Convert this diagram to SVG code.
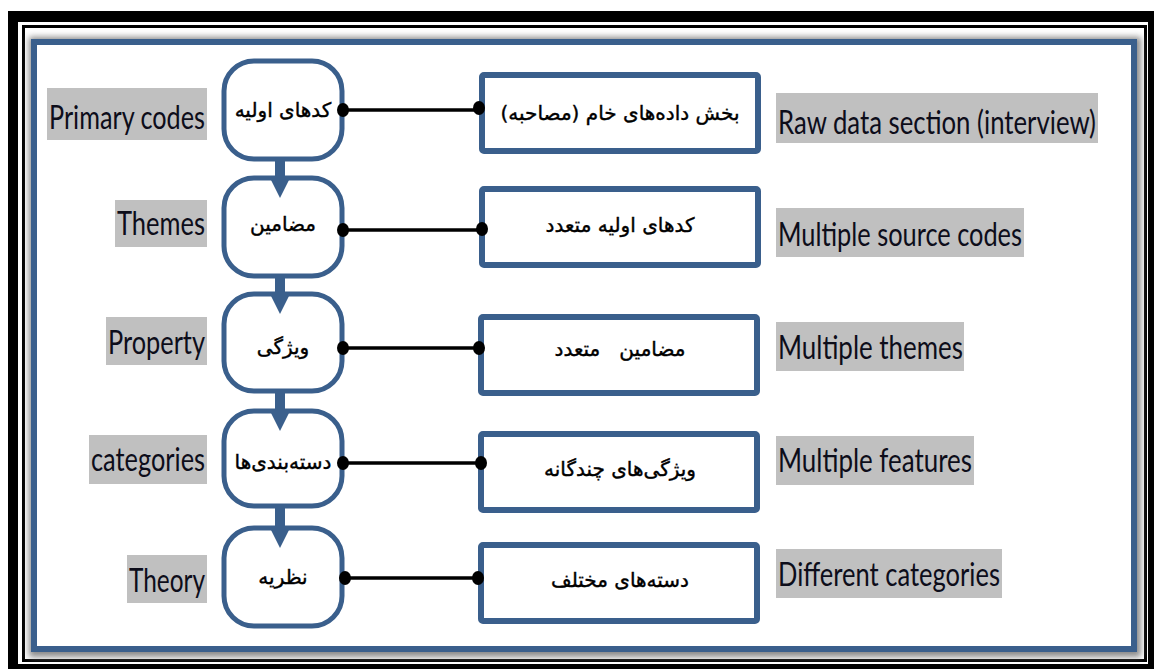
<svg xmlns="http://www.w3.org/2000/svg" width="1154" height="670" viewBox="0 0 1154 670">
<style>
.node{fill:#fff;stroke:#3a5f8c;stroke-width:5}
.box{fill:#fff;stroke:#3a5f8c;stroke-width:6}
.fa{font-family:"DejaVu Sans","Noto Sans",sans-serif;font-size:20px;fill:#000;text-anchor:middle;direction:rtl;stroke:#000;stroke-width:0.4}
.en{font-family:Lato,"Liberation Sans",sans-serif;font-size:32px;fill:#0d0d1a}
.hl{fill:#c0c0c0}
.stem{fill:#3a5f8c}
.conn{stroke:#000;stroke-width:3.5}
.dot{fill:#000}
</style>
<defs>
<filter id="sh" x="-5%" y="-5%" width="110%" height="110%"><feGaussianBlur stdDeviation="3"/></filter>
</defs>
<rect x="0" y="0" width="1154" height="670" fill="#fff"/>
<g id="frame">
<rect x="8" y="11" width="1146" height="658" fill="#000"/>
<rect x="18" y="22" width="1130" height="642" fill="#fff"/>
<rect x="23.5" y="26.5" width="1122" height="634" fill="none" stroke="#000" stroke-width="3"/>
<rect x="29" y="37" width="1112" height="620" fill="#8a8a8a" filter="url(#sh)"/>
<rect x="34" y="42" width="1100" height="607" fill="#fff" stroke="#3a5f8c" stroke-width="6"/>
</g>
<g id="labels-left">
<rect class="hl" x="47" y="88" width="160" height="52"/>
<text class="en" x="205" y="129" text-anchor="end" textLength="156" lengthAdjust="spacingAndGlyphs">Primary codes</text>
<rect class="hl" x="115" y="200" width="92" height="47"/>
<text class="en" x="205" y="235" text-anchor="end" textLength="88" lengthAdjust="spacingAndGlyphs">Themes</text>
<rect class="hl" x="106" y="317" width="101" height="48"/>
<text class="en" x="205" y="354" text-anchor="end" textLength="97" lengthAdjust="spacingAndGlyphs">Property</text>
<rect class="hl" x="89" y="435" width="118" height="49"/>
<text class="en" x="205" y="471" text-anchor="end" textLength="114" lengthAdjust="spacingAndGlyphs">categories</text>
<rect class="hl" x="127" y="555" width="80" height="48"/>
<text class="en" x="205" y="592" text-anchor="end" textLength="76" lengthAdjust="spacingAndGlyphs">Theory</text>
</g>
<g id="labels-right">
<rect class="hl" x="776" y="93" width="322" height="50"/>
<text class="en" x="778" y="134" textLength="318" lengthAdjust="spacingAndGlyphs">Raw data section (interview)</text>
<rect class="hl" x="776" y="208" width="248" height="49"/>
<text class="en" x="778" y="246" textLength="244" lengthAdjust="spacingAndGlyphs">Multiple source codes</text>
<rect class="hl" x="776" y="322" width="188" height="49"/>
<text class="en" x="778" y="359" textLength="185" lengthAdjust="spacingAndGlyphs">Multiple themes</text>
<rect class="hl" x="776" y="436" width="198" height="49"/>
<text class="en" x="778" y="472" textLength="194" lengthAdjust="spacingAndGlyphs">Multiple features</text>
<rect class="hl" x="776" y="549" width="226" height="49"/>
<text class="en" x="778" y="586" textLength="222" lengthAdjust="spacingAndGlyphs">Different categories</text>
</g>
<g id="node1"><rect class="node" x="224" y="61" width="118" height="98" rx="30"/><text class="fa" x="283" y="117">کدهای اولیه</text></g>
<g id="node2"><rect class="node" x="224" y="178" width="118" height="98" rx="30"/><text class="fa" x="283" y="231">مضامین</text></g>
<g id="node3"><rect class="node" x="224" y="294" width="118" height="97" rx="30"/><text class="fa" x="283" y="354">ویژگی</text></g>
<g id="node4"><rect class="node" x="224" y="411" width="118" height="95" rx="30"/><text class="fa" x="283" y="469">دسته‌بندی‌ها</text></g>
<g id="node5"><rect class="node" x="224" y="528" width="118" height="98" rx="30"/><text class="fa" x="283" y="584">نظریه</text></g>
<g id="box1"><rect class="box" x="482" y="75" width="276" height="76" rx="2"/><text class="fa" x="620" y="120">بخش داده‌های خام (مصاحبه)</text></g>
<g id="box2"><rect class="box" x="482" y="189" width="276" height="76" rx="2"/><text class="fa" x="620" y="232">کدهای اولیه متعدد</text></g>
<g id="box3"><rect class="box" x="481" y="317" width="276" height="76" rx="2"/><text class="fa" x="620" y="356" xml:space="preserve">مضامین   متعدد</text></g>
<g id="box4"><rect class="box" x="481" y="434" width="276" height="76" rx="2"/><text class="fa" x="620" y="476">ویژگی‌های چندگانه</text></g>
<g id="box5"><rect class="box" x="481" y="545" width="276" height="76" rx="2"/><text class="fa" x="620" y="587">دسته‌های مختلف</text></g>
<g id="connectors">
<rect class="stem" x="275" y="157" width="10" height="24"/>
<polygon class="stem" points="270,178 290,178 280,198"/>
<rect class="stem" x="275" y="274" width="10" height="23"/>
<polygon class="stem" points="270,294 290,294 280,314"/>
<rect class="stem" x="275" y="389" width="10" height="25"/>
<polygon class="stem" points="270,411 290,411 280,431"/>
<rect class="stem" x="275" y="504" width="10" height="27"/>
<polygon class="stem" points="270,528 290,528 280,548"/>
<line class="conn" x1="343" y1="110" x2="479" y2="110"/><ellipse class="dot" cx="343" cy="110" rx="6" ry="7"/><ellipse class="dot" cx="479" cy="108" rx="6" ry="7"/>
<line class="conn" x1="343" y1="230" x2="482" y2="230"/><ellipse class="dot" cx="343" cy="230" rx="6" ry="7"/><ellipse class="dot" cx="482" cy="229" rx="6" ry="7"/>
<line class="conn" x1="343" y1="348" x2="479" y2="348"/><ellipse class="dot" cx="343" cy="348" rx="6" ry="7"/><ellipse class="dot" cx="479" cy="348" rx="6" ry="7"/>
<line class="conn" x1="343" y1="463" x2="481" y2="463"/><ellipse class="dot" cx="343" cy="463" rx="6" ry="7"/><ellipse class="dot" cx="481" cy="463" rx="6" ry="7"/>
<line class="conn" x1="343" y1="578" x2="478" y2="578"/><ellipse class="dot" cx="345" cy="578" rx="6" ry="7"/><ellipse class="dot" cx="478" cy="578" rx="6" ry="7"/>
</g>
</svg>
